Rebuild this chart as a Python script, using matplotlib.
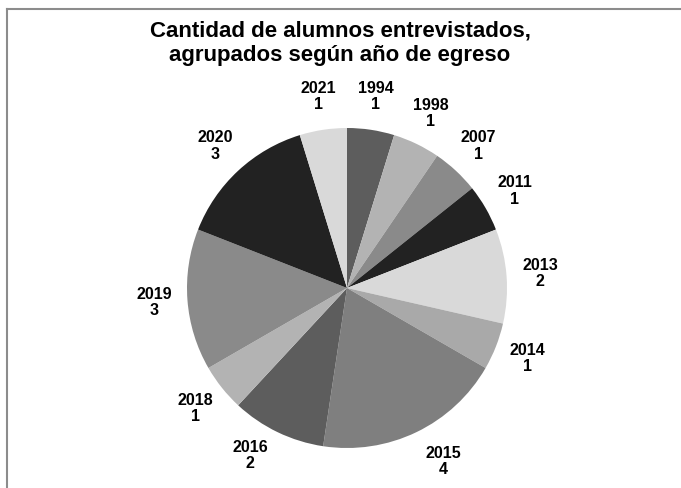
import matplotlib
matplotlib.use("Agg")
import matplotlib.pyplot as plt
from matplotlib.lines import Line2D
import numpy as np

years = ["1994", "1998", "2007", "2011", "2013", "2014", "2015", "2016", "2018", "2019", "2020", "2021"]
counts = [1, 1, 1, 1, 2, 1, 4, 2, 1, 3, 3, 1]
colors = ["#5d5d5d", "#b3b3b3", "#8a8a8a", "#222222", "#d9d9d9", "#a9a9a9",
          "#7f7f7f", "#5d5d5d", "#b3b3b3", "#8a8a8a", "#222222", "#d9d9d9"]
title = "Cantidad de alumnos entrevistados,\nagrupados según año de egreso"

plt.rcParams['font.family'] = ['Liberation Sans', 'DejaVu Sans']

W, H = 681, 488
fig = plt.figure(figsize=(W / 100, H / 100), dpi=100)

cx, cy, R = 347, 288, 160
ax = fig.add_axes([(cx - R) / W, (H - cy - R) / H, 2 * R / W, 2 * R / H])
wedges, texts = ax.pie(counts, colors=colors, startangle=90, counterclock=False,
                       labels=[f"{y}\n{c}" for y, c in zip(years, counts)],
                       labeldistance=1.21, radius=1.0,
                       wedgeprops=dict(linewidth=0),
                       textprops=dict(fontsize=11.5, fontweight='bold', ha='center',
                                      va='center', linespacing=1.12))
for t in texts:
    t.set_ha('center')
    t.set_va('center')
    t.set_clip_on(False)
# Labels for 2015 / 2016 shifted along the circle (as in the reference layout)
i16 = years.index("2016")
ang = np.deg2rad(-120)
texts[i16].set_position((1.21 * np.cos(ang), 1.21 * np.sin(ang)))
i15 = years.index("2015")
ang = np.deg2rad(-61)
texts[i15].set_position((1.24 * np.cos(ang), 1.24 * np.sin(ang)))
ax.set_xlim(-1, 1)
ax.set_ylim(-1, 1)
ax.set_aspect('equal')
ax.axis('off')

fig.text(340 / W, 1 - 43 / H, title, ha='center', va='center', fontsize=16,
         fontweight='bold', linespacing=1.2)

fig.add_artist(Line2D([6.5 / W, 1], [1 - 9 / H, 1 - 9 / H], color='#8c8c8c', lw=1.5,
                      transform=fig.transFigure))
fig.add_artist(Line2D([6.5 / W, 6.5 / W], [0, 1 - 9 / H], color='#8c8c8c', lw=1.5,
                      transform=fig.transFigure))

fig.savefig("out.png", dpi=100)
